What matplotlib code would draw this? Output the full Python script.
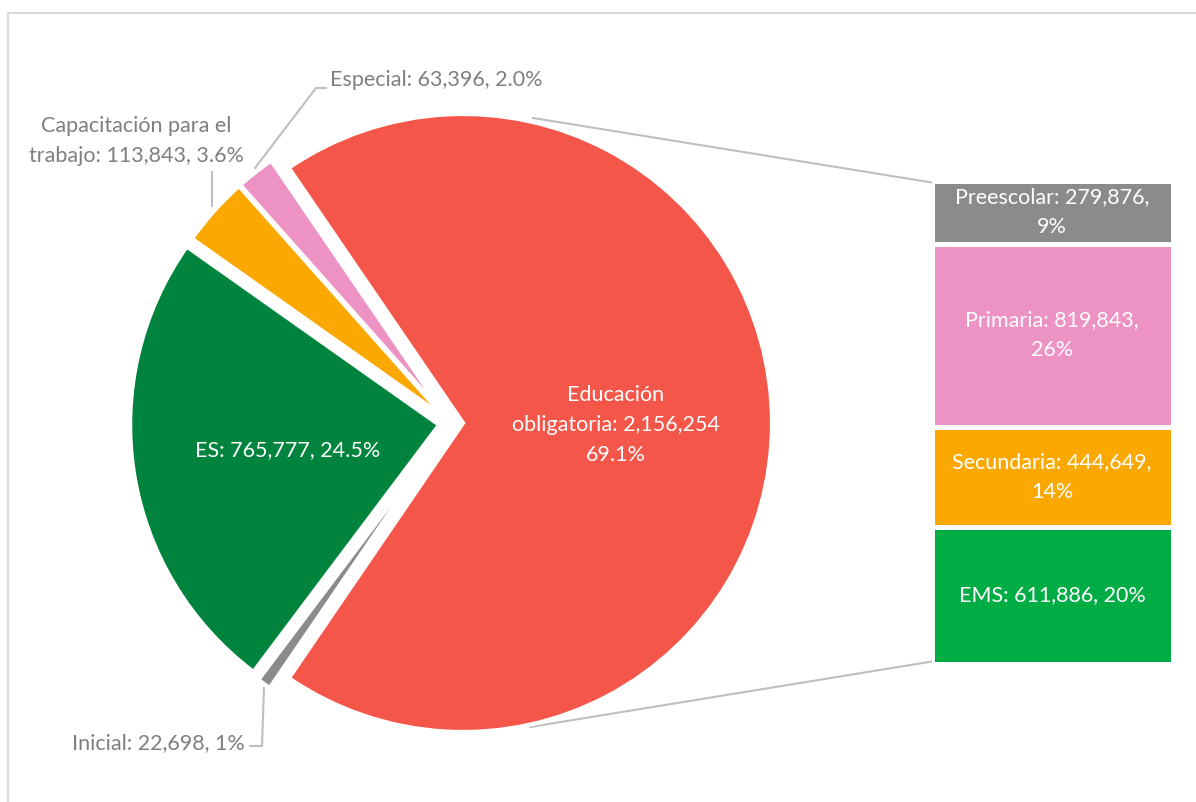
import matplotlib.pyplot as plt
import numpy as np

W, H = 1196, 802

# main pie: compulsory education grouped in one slice
pie_names = ['Educación\nobligatoria', 'Especial', 'Capacitación para el\ntrabajo', 'ES', 'Inicial']
pie_values = [2156254, 63396, 113843, 765777, 22698]
pie_decimals = [1, 1, 1, 1, 0]
pie_seps = ['\n', ', ', ', ', ', ', ', ']
pie_colors = ['#F5564A', '#EC93C3', '#FBA800', '#00843D', '#8A8C8C']

# breakdown of the compulsory slice
bar_names = ['Preescolar', 'Primaria', 'Secundaria', 'EMS']
bar_values = [279876, 819843, 444649, 611886]
bar_colors = ['#8A8C8C', '#EC93C3', '#FBA800', '#00AD45']
bar_seps = [',\n', ',\n', ',\n', ', ']

total = sum(pie_values)
FONT = 'Lato'
FS = 15.5
LS = 1.6
GREY_TXT = '#7F7F7F'
LINE_C = '#BFBFBF'


def Y(py):
    # pixel row -> data y
    return H - py


def pie_label(i):
    pct = pie_values[i] / total * 100
    return f"{pie_names[i]}: {pie_values[i]:,}{pie_seps[i]}{pct:.{pie_decimals[i]}f}%"


fig = plt.figure(figsize=(W / 100, H / 100), dpi=100)
ax = fig.add_axes([0, 0, 1, 1])

cx, cy, r = 451, Y(423), 309
ax.pie(pie_values, colors=pie_colors, startangle=-pie_values[0] / total * 180,
       counterclock=True, center=(cx, cy), radius=r, explode=[12, 9, 9, 12, 12],
       wedgeprops=dict(edgecolor='white', linewidth=3), frame=True)
ax.set_xlim(0, W)
ax.set_ylim(0, H)
ax.axis('off')

# container border
ax.plot([8, 8], [Y(13), 0], color='#D9D9D9', lw=1.5, zorder=0)
ax.plot([8, W], [Y(13), Y(13)], color='#D9D9D9', lw=1.5, zorder=0)

# connector lines from the pie to the bar
ax.plot([533, 935], [Y(118), Y(183)], color=LINE_C, lw=1.5, zorder=0)
ax.plot([530, 935], [Y(727), Y(661)], color=LINE_C, lw=1.5, zorder=0)

# labels inside the pie
ax.text(616, Y(425), pie_label(0), color='white', fontsize=FS, family=FONT,
        ha='center', va='center', linespacing=LS)
ax.text(288, Y(450), pie_label(3), color='white', fontsize=FS, family=FONT,
        ha='center', va='center')

# outside labels with leaders
ax.text(330, Y(80), pie_label(1), color=GREY_TXT, fontsize=FS, family=FONT,
        ha='left', va='center')
ax.plot([255, 316, 326], [Y(168), Y(88), Y(88)], color=LINE_C, lw=1.5)

ax.text(136, Y(141), pie_label(2), color=GREY_TXT, fontsize=FS, family=FONT,
        ha='center', va='center', linespacing=LS)
ax.plot([212, 212], [Y(172), Y(206)], color=LINE_C, lw=1.5)

ax.text(245, Y(743), pie_label(4), color=GREY_TXT, fontsize=FS, family=FONT,
        ha='right', va='center')
ax.plot([264, 262, 250], [Y(688), Y(746), Y(746)], color=LINE_C, lw=1.5)

# stacked bar, Preescolar on top
bax = fig.add_axes([931.5 / W, Y(663.5) / H, 241 / W, 482.5 / H])
bottom = 0
for name, v, c, sep in reversed(list(zip(bar_names, bar_values, bar_colors, bar_seps))):
    bax.bar(0, v, bottom=bottom, width=1, color=c, edgecolor='white', linewidth=3.6)
    pct = v / total * 100
    bax.text(0, bottom + v / 2, f"{name}: {v:,}{sep}{pct:.0f}%", color='white',
             fontsize=FS, family=FONT, ha='center', va='center', linespacing=LS)
    bottom += v
bax.set_xlim(-0.5, 0.5)
bax.set_ylim(0, bottom)
bax.axis('off')

fig.savefig('out.png', dpi=100)
